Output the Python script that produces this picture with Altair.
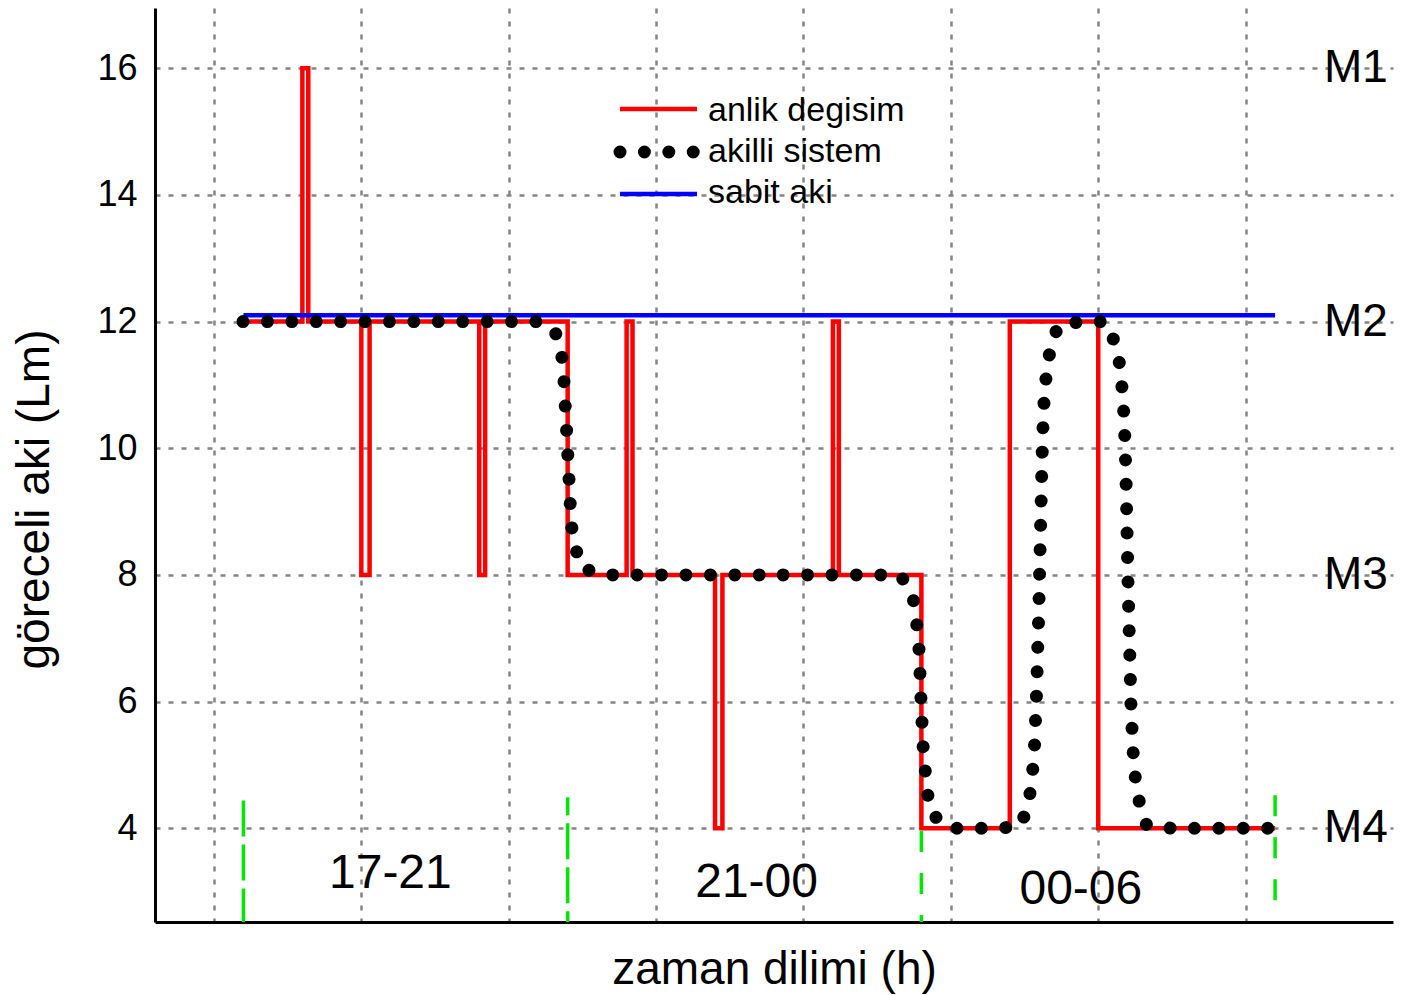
import altair as alt
import pandas as pd

FONT = "Liberation Sans"

# ---- data (x in grid units, y in Lm) ----
# anlik degisim (instant switching, red)
red_x = [1.2, 1.6, 1.6, 1.64, 1.64, 2.0, 2.0, 2.056, 2.056, 2.8, 2.8, 2.84, 2.84,
         3.4, 3.4, 3.8, 3.8, 3.84, 3.84, 4.4, 4.4, 4.45, 4.45, 5.2, 5.2, 5.24, 5.24,
         5.8, 5.8, 6.4, 6.4, 7.0, 7.0, 8.2]
red_y = [12, 12, 16, 16, 12, 12, 8, 8, 12, 12, 8, 8, 12,
         12, 8, 8, 12, 12, 8, 8, 4, 4, 8, 8, 12, 12, 8,
         8, 4, 4, 12, 12, 4, 4]

# akilli sistem (smart system, black dotted), two path pieces
smart_seg = [1] * 11 + [2] * 37
smart_x = [1.197, 3.185, 3.313, 3.359, 3.374, 3.400, 3.424, 3.451, 3.501, 3.664, 4.820,
           4.862, 5.659, 5.744, 5.767, 5.783, 5.810, 5.839, 5.876, 6.005, 6.337,
           6.475, 6.529, 6.550, 6.565, 6.579, 6.597, 6.611, 6.622, 6.636, 6.656, 6.683, 6.735, 6.897,
           7.049, 7.124, 7.151, 7.165, 7.176, 7.187, 7.203, 7.223, 7.239, 7.255, 7.284, 7.328, 7.497, 8.198]
smart_y = [12.0, 12.0, 11.86, 11.48, 11.10, 9.95, 8.80, 8.43, 8.10, 8.0, 8.0,
           8.0, 8.0, 7.64, 7.26, 6.87, 5.34, 4.57, 4.21, 4.0, 4.0,
           4.04, 4.41, 4.79, 5.17, 5.94, 7.47, 9.00, 10.16, 10.92, 11.30, 11.68, 11.95, 12.0,
           12.0, 11.61, 11.24, 10.85, 10.47, 9.70, 7.79, 5.87, 5.10, 4.72, 4.35, 4.05, 4.0, 4.0]

# sabit aki (constant flux, blue)
flat_x = [1.2, 8.2]
flat_y = [12.1, 12.1]

# period boundaries (green dashed)
edge_x = [1.2, 3.4, 5.8, 8.2]
edge_top = [4.44, 4.49, 4.62, 4.52]
edge_bottom = [2.52, 2.52, 2.52, 2.83]

# period names
period_names = ["17-21", "21-00", "00-06"]
period_name_x = [2.197, 4.682, 6.882]
period_name_y = [3.05, 2.915, 2.81]

# level names
level_names = ["M1", "M2", "M3", "M4"]
level_values = [16, 12, 8, 4]

y_ticks = [4, 6, 8, 10, 12, 14, 16]
x_grid = [1, 2, 3, 4, 5, 6, 7, 8]
legend_names = ["anlik degisim", "akilli sistem", "sabit aki"]

# ---- tables ----
red_df = pd.DataFrame({"x": red_x, "y": red_y, "i": range(len(red_x))})
smart_df = pd.DataFrame({"x": smart_x, "y": smart_y, "seg": smart_seg, "i": range(len(smart_x))})
flat_df = pd.DataFrame({"x": flat_x, "y": flat_y, "i": range(len(flat_x))})
edge_df = pd.DataFrame({"x": edge_x, "top": edge_top, "bot": edge_bottom, "k": range(4)})
period_df = pd.DataFrame({"name": period_names, "x": period_name_x, "y": period_name_y})
level_df = pd.DataFrame({"name": level_names, "y": level_values})
one = pd.DataFrame({"k": [0]})

xs = alt.Scale(domain=[0.6, 9.0], nice=False, zero=False)
ys = alt.Scale(domain=[2.52, 16.95], nice=False, zero=False)

X_AXIS = alt.Axis(values=x_grid, labels=False, ticks=False, grid=True,
                  gridColor="#858585", gridDash=[5, 8], gridWidth=2.5,
                  domainColor="black", domainWidth=3,
                  title="zaman dilimi (h)", titleFont=FONT, titleFontSize=46,
                  titleFontWeight="normal", titleColor="black",
                  titleX=619, titleY=61, titleBaseline="alphabetic", titleAlign="center")
Y_AXIS = alt.Axis(values=y_ticks, ticks=False, grid=True,
                  gridColor="#858585", gridDash=[5, 8], gridWidth=2.5,
                  domainColor="black", domainWidth=3,
                  labelFont=FONT, labelFontSize=36, labelColor="black", labelPadding=18,
                  title="göreceli aki (Lm)", titleFont=FONT, titleFontSize=46,
                  titleFontWeight="normal", titleColor="black",
                  titleX=-107, titleY=491, titleAngle=270,
                  titleBaseline="alphabetic", titleAlign="center")


def X(f):
    return alt.X(f"{f}:Q", scale=xs, axis=X_AXIS)


def Y(f):
    return alt.Y(f"{f}:Q", scale=ys, axis=Y_AXIS)


# green period boundaries
green_a = alt.Chart(edge_df).transform_filter("datum.k == 0").mark_rule(
    color="#00e600", strokeWidth=3.5, strokeDash=[36, 8]
).encode(x=X("x"), y=Y("top"), y2="bot:Q")
green_b = alt.Chart(edge_df).transform_filter("datum.k == 1").mark_rule(
    color="#00e600", strokeWidth=3.5, strokeDash=[36, 8], strokeDashOffset=18
).encode(x=X("x"), y=Y("top"), y2="bot:Q")
green_c = alt.Chart(edge_df).transform_filter("datum.k >= 2").mark_rule(
    color="#00e600", strokeWidth=3.5, strokeDash=[21, 21]
).encode(x=X("x"), y=Y("top"), y2="bot:Q")

red = alt.Chart(red_df).mark_line(
    color="#ff0000", strokeWidth=4.5, strokeJoin="miter", strokeCap="butt"
).encode(x=X("x"), y=Y("y"), order="i:Q")

blue = alt.Chart(flat_df).mark_line(color="#0000ff", strokeWidth=4.5).encode(
    x=X("x"), y=Y("y"), order="i:Q")

dots = alt.Chart(smart_df).mark_line(
    color="black", strokeWidth=13, strokeCap="round", strokeDash=[0.01, 24.4]
).encode(x=X("x"), y=Y("y"), detail="seg:N", order="i:Q")

periods = alt.Chart(period_df).mark_text(
    font=FONT, fontSize=48, color="black", align="center", baseline="alphabetic"
).encode(x=X("x"), y=Y("y"), text="name:N")

levels = alt.Chart(level_df).mark_text(
    font=FONT, fontSize=46, color="black", align="center", baseline="middle"
).encode(x=alt.value(1201), y=Y("y"), text="name:N")

# legend (drawn by hand, inside the plot)
leg_red = alt.Chart(one).mark_rule(color="#ff0000", strokeWidth=4.5).encode(
    x=alt.value(465), x2=alt.value(542), y=alt.value(101))
leg_dots = alt.Chart(one).mark_rule(
    color="black", strokeWidth=13, strokeCap="round", strokeDash=[0.01, 24.4]
).encode(x=alt.value(465), x2=alt.value(542), y=alt.value(144))
leg_blue = alt.Chart(one).mark_rule(color="#0000ff", strokeWidth=4.5).encode(
    x=alt.value(465), x2=alt.value(542), y=alt.value(186))

leg_texts = []
for name, yy in zip(legend_names, [113, 154, 195]):
    leg_texts.append(
        alt.Chart(one).mark_text(
            font=FONT, fontSize=34, color="black", align="left", baseline="alphabetic",
            text=name
        ).encode(x=alt.value(553), y=alt.value(yy))
    )

chart = alt.layer(
    green_a, green_b, green_c, red, blue, dots, periods, levels,
    leg_red, leg_dots, leg_blue, *leg_texts
).properties(
    width=1238, height=914,
    autosize=alt.AutoSizeParams(type="none"),
    padding={"left": 147, "top": 0, "right": 3, "bottom": 72},
    background="white",
).configure_view(stroke=None)

chart.save("out.html", embed_options={"renderer": "svg", "actions": False})
